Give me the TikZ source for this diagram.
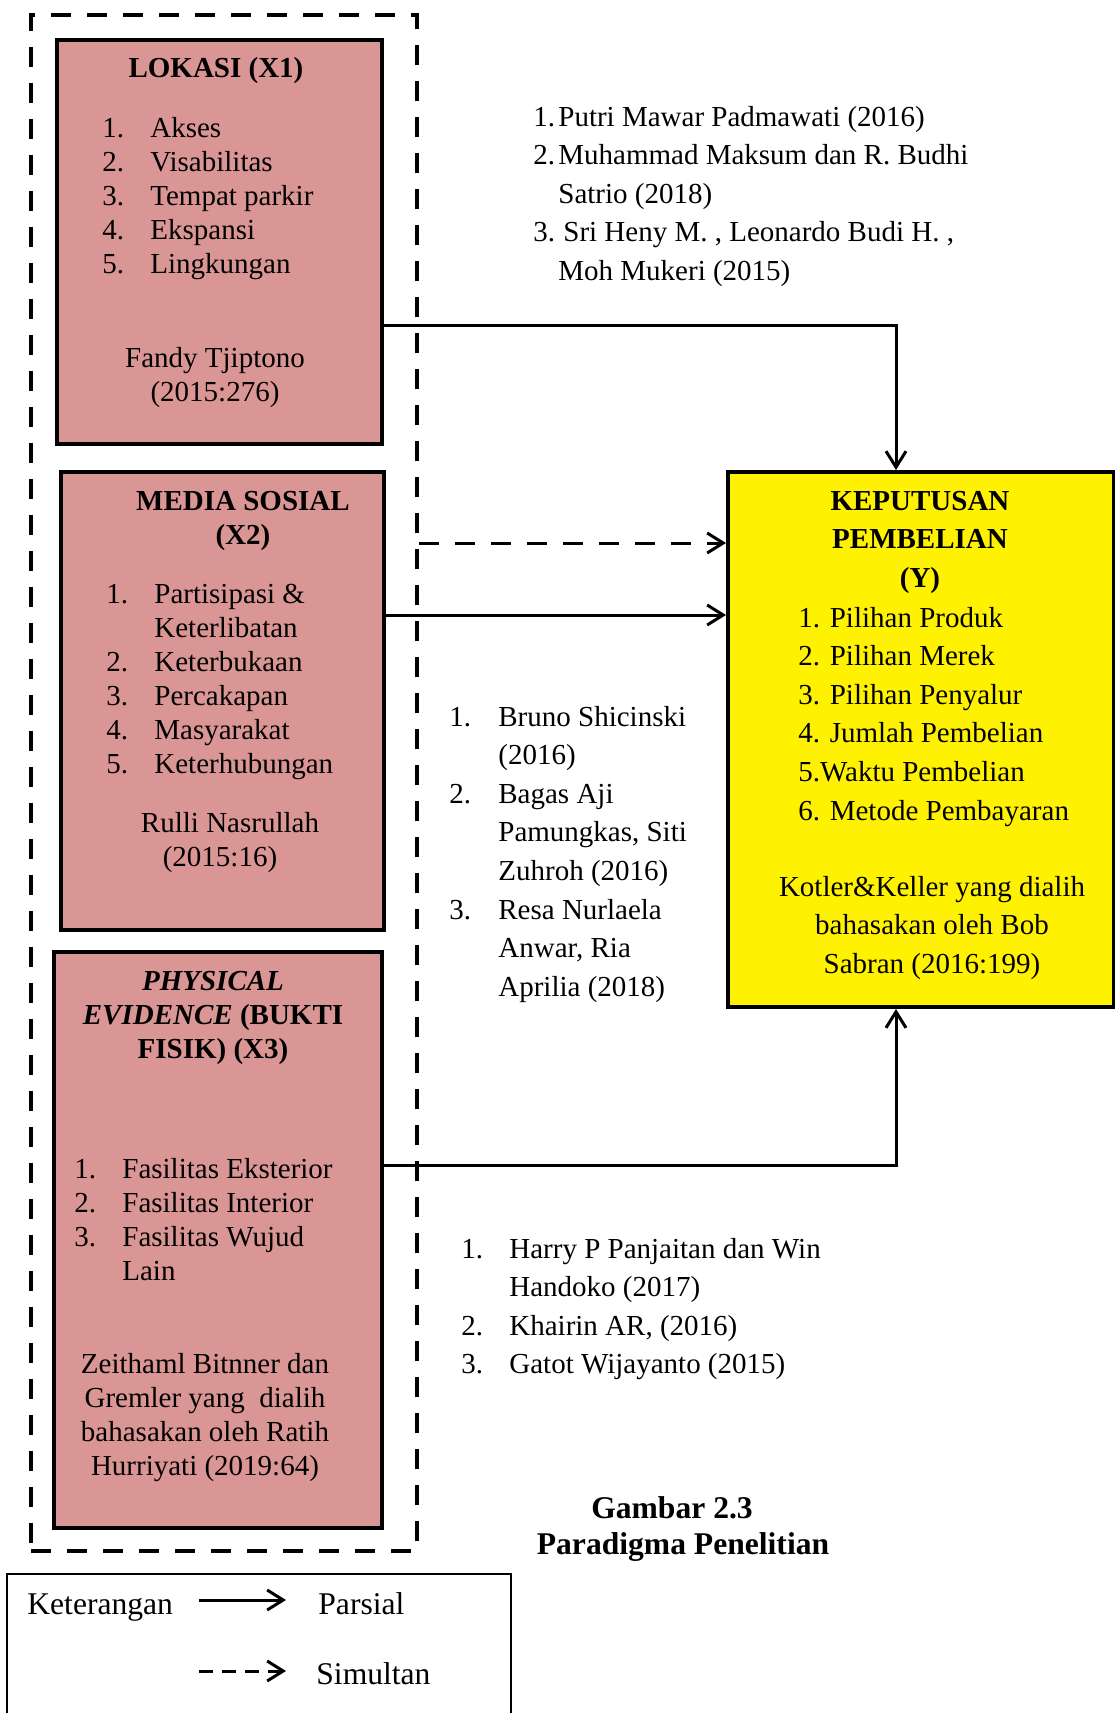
\documentclass[tikz,border=0pt]{standalone}
\usepackage{fontspec}
\setmainfont{Liberation Serif}
\usetikzlibrary{arrows.meta}
\definecolor{merahmuda}{RGB}{217,150,148}

\begin{document}
\begin{tikzpicture}[x=0.5pt,y=-0.5pt,
	kotak/.style={draw, line width=2pt, fill=merahmuda, anchor=north west, inner sep=0pt},
	bingkai/.style={draw, line width=2pt, dash pattern=on 10pt off 8pt, anchor=north west, inner sep=0pt},
	isi/.style={inner sep=0pt, font=\fontsize{14.5}{17}\selectfont},
	isiy/.style={inner sep=0pt, font=\fontsize{14.5}{19.3}\selectfont},
	ket/.style={inner sep=0pt, font=\fontsize{15.8}{18}\selectfont},
	parsial/.style={line width=1.5pt, -{Straight Barb[length=8pt,width=10pt]}},
	simultan/.style={parsial, dash pattern=on 10pt off 8pt}]
	\useasboundingbox (0,0) rectangle (1114,1713);
	% kotak
	\node[bingkai, minimum width=193pt, minimum height=768pt] (luar) at (29,13) {};
	\node[kotak, minimum width=162.5pt, minimum height=202pt] (x1) at (55,38) {};
	\node[kotak, minimum width=161.5pt, minimum height=229pt] (x2) at (59,470) {};
	\node[kotak, minimum width=164pt, minimum height=288pt] (x3) at (52,950) {};
	\node[kotak, fill=yellow, minimum width=193pt, minimum height=267.5pt] (y) at (726,470) {};
	% X1
	\node[isi, anchor=base] (jx1) at (216,77) {\textbf{LOKASI (X1)}};
	\node[isi, anchor=base west] (lx1) at (102,137) {\begin{tabular}[t]{@{}p{24pt}@{}l@{}}
		1. & Akses\\ 2. & Visabilitas\\ 3. & Tempat parkir\\ 4. & Ekspansi\\ 5. & Lingkungan
	\end{tabular}};
	\node[isi, anchor=base] (sx1) at (215,367) {\begin{tabular}[t]{@{}c@{}}Fandy Tjiptono\\(2015:276)\end{tabular}};
	% X2
	\node[isi, anchor=base] (jx2) at (243,510) {\bfseries\begin{tabular}[t]{@{}c@{}}MEDIA SOSIAL\\(X2)\end{tabular}};
	\node[isi, anchor=base west] (lx2) at (106,603) {\begin{tabular}[t]{@{}p{24pt}@{}l@{}}
		1. & Partisipasi \&\\ & Keterlibatan\\ 2. & Keterbukaan\\ 3. & Percakapan\\ 4. & Masyarakat\\ 5. & Keterhubungan
	\end{tabular}};
	\node[isi, anchor=base] (sx2) at (230,832) {\begin{tabular}[t]{@{}c@{}}Rulli Nasrullah\\(2015:16)\kern10pt\end{tabular}};
	% X3
	\node[isi, anchor=base] (jx3) at (213,990) {\bfseries\begin{tabular}[t]{@{}c@{}}\itshape PHYSICAL\\\textit{EVIDENCE} (BUKTI\\FISIK) (X3)\end{tabular}};
	\node[isi, anchor=base west] (lx3) at (74,1178) {\begin{tabular}[t]{@{}p{24pt}@{}l@{}}
		1. & Fasilitas Eksterior\\ 2. & Fasilitas Interior\\ 3. & Fasilitas Wujud\\ & Lain
	\end{tabular}};
	\node[isi, anchor=base] (sx3) at (205,1373) {\begin{tabular}[t]{@{}c@{}}Zeithaml Bitnner dan\\Gremler yang~ dialih\\bahasakan oleh Ratih\\Hurriyati (2019:64)\end{tabular}};
	% Y
	\node[isiy, anchor=base] (jy) at (920,510) {\bfseries\begin{tabular}[t]{@{}c@{}}KEPUTUSAN\\PEMBELIAN\\(Y)\end{tabular}};
	\node[isiy, anchor=base west] (ly) at (798,627) {\begin{tabular}[t]{@{}l@{}}
		1. Pilihan Produk\\ 2. Pilihan Merek\\ 3. Pilihan Penyalur\\ 4. Jumlah Pembelian\\ 5.Waktu Pembelian\\ 6. Metode Pembayaran
	\end{tabular}};
	\node[isiy, anchor=base] (sy) at (932,896) {\begin{tabular}[t]{@{}c@{}}Kotler\&Keller yang dialih\\bahasakan oleh Bob\\Sabran (2016:199)\end{tabular}};
	% rujukan
	\node[isiy, anchor=base west] (r1) at (533,126) {\begin{tabular}[t]{@{}p{12.5pt}@{}l@{}}
		1. & Putri Mawar Padmawati (2016)\\ 2. & Muhammad Maksum dan R. Budhi\\ & Satrio (2018)\\ 3. & \hspace{2.5pt}Sri Heny M. , Leonardo Budi H. ,\\ & Moh Mukeri (2015)
	\end{tabular}};
	\node[isiy, anchor=base west] (r2) at (449,726) {\begin{tabular}[t]{@{}p{24.5pt}@{}l@{}}
		1. & Bruno Shicinski\\ & (2016)\\ 2. & Bagas Aji\\ & Pamungkas, Siti\\ & Zuhroh (2016)\\ 3. & Resa Nurlaela\\ & Anwar, Ria\\ & Aprilia (2018)
	\end{tabular}};
	\node[isiy, anchor=base west] (r3) at (461,1258) {\begin{tabular}[t]{@{}p{24pt}@{}l@{}}
		1. & Harry P Panjaitan dan Win\\ & Handoko (2017)\\ 2. & Khairin AR, (2016)\\ 3. & Gatot Wijayanto (2015)
	\end{tabular}};
	% judul gambar
	\node[ket, anchor=base] (gbr) at (683,1518) {\bfseries\begin{tabular}[t]{@{}c@{}}Gambar 2.3\kern11pt\\Paradigma Penelitian\end{tabular}};
	% panah
	\coordinate (b1) at (896,325);
	\coordinate (b2) at (896,1165);
	\draw[parsial] (x1.east |- b1) -- (b1) -- (b1 |- y.north);
	\draw[simultan] (luar.east |- 0,543) -- (y.west |- 0,543);
	\draw[parsial] (x2.east |- 0,615) -- (y.west |- 0,615);
	\draw[parsial] (x3.east |- b2) -- (b2) -- (b2 |- y.south);
	% keterangan
	\draw[line width=1pt] (7,1720) |- (511,1574) -- (511,1720);
	\node[ket, anchor=base west] (keterangan) at (27,1614) {Keterangan};
	\coordinate (p1) at (199,1600);
	\coordinate (p2) at (286,1600);
	\draw[parsial] (p1) -- (p2);
	\node[ket, anchor=base west] (lparsial) at (318,1614) {Parsial};
	\coordinate (s1) at (199,1671);
	\coordinate (s2) at (286,1671);
	\draw[simultan, dash pattern=on 7pt off 4.5pt] (s1) -- (s2);
	\node[ket, anchor=base west] (lsimultan) at (316,1684) {Simultan};
\end{tikzpicture}
\end{document}
